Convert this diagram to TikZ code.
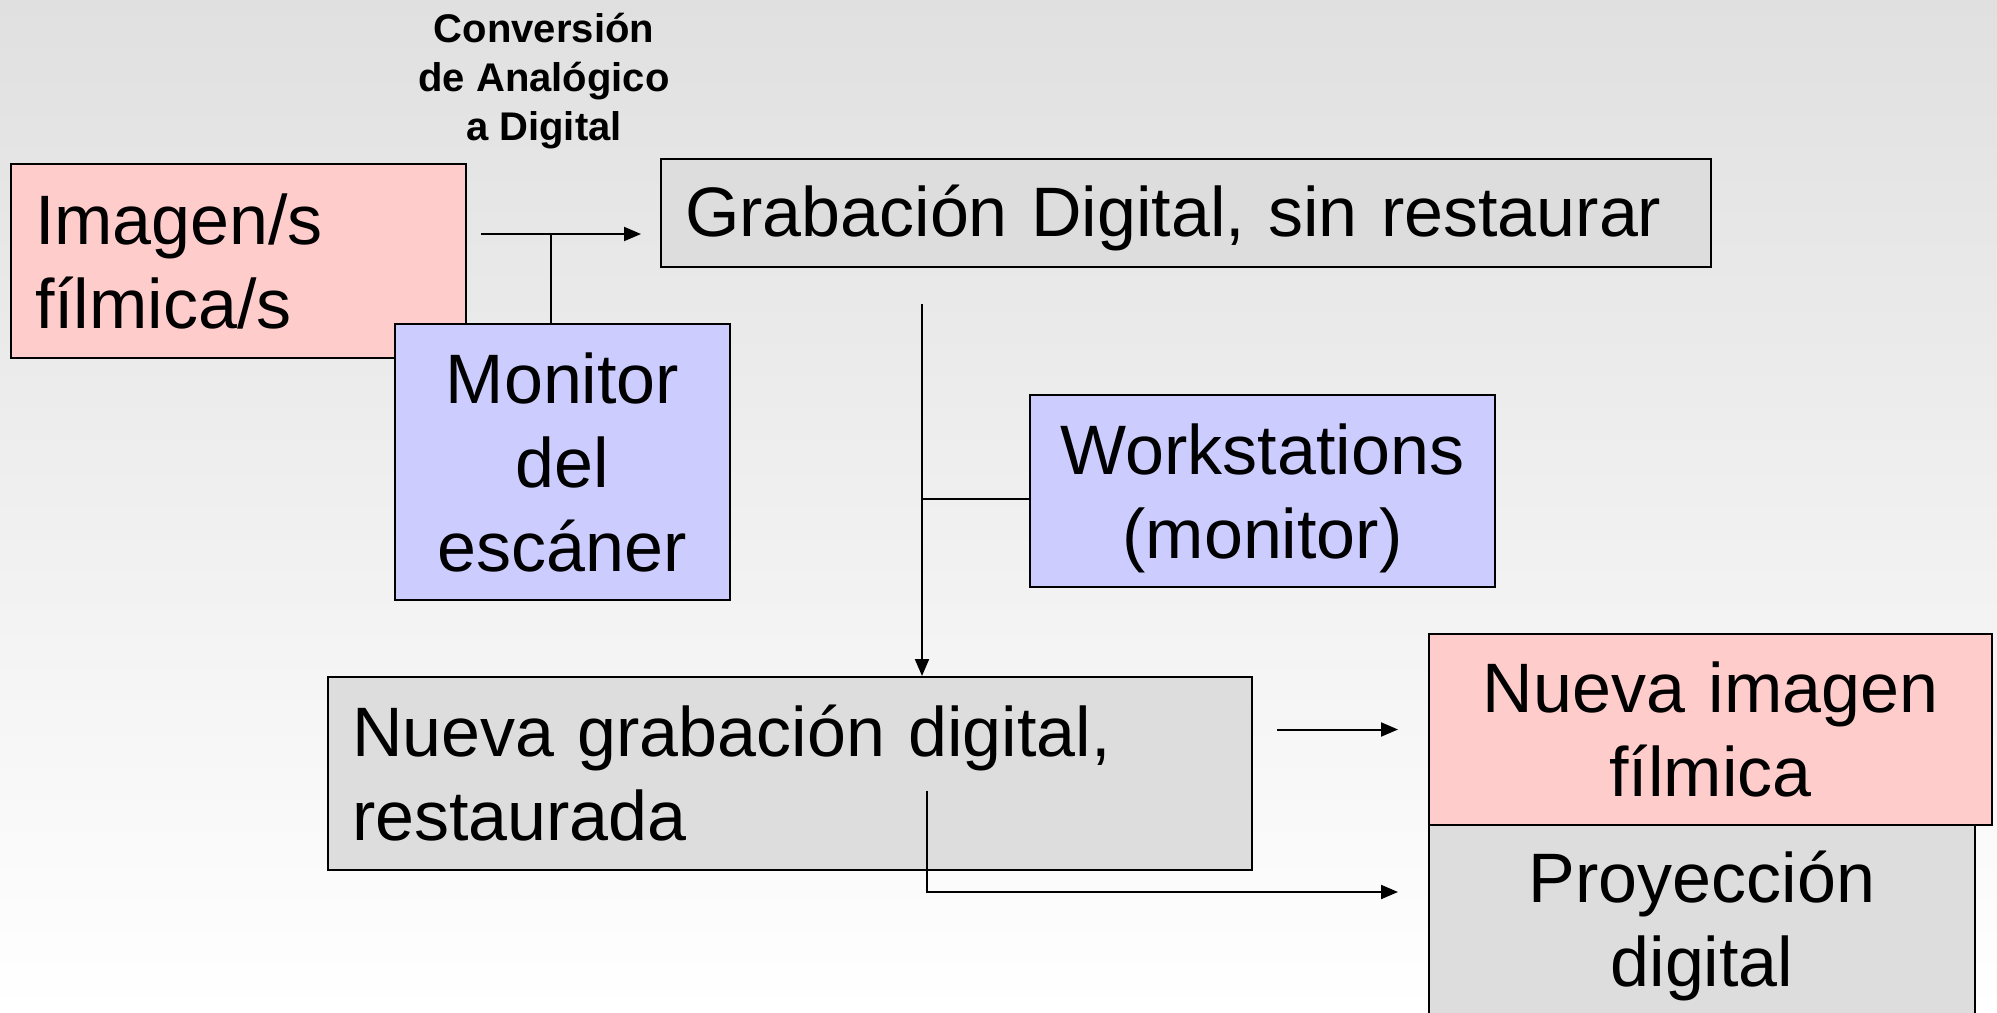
\documentclass[tikz,border=0pt]{standalone}
\usepackage{fontspec}
\setmainfont{Liberation Sans}
\usetikzlibrary{arrows.meta}

\definecolor{rosafill}{RGB}{255,204,204}
\definecolor{lilafill}{RGB}{204,204,255}
\definecolor{grisfill}{RGB}{221,221,221}
\definecolor{fondo}{RGB}{224,224,224}

\tikzset{
	caja/.style={draw=black, line width=2pt, anchor=north west, inner xsep=24pt, inner ysep=0pt,
		font=\fontsize{70}{84}\selectfont},
	rosa/.style={caja, fill=rosafill},
	lila/.style={caja, fill=lilafill, align=center},
	gris/.style={caja, fill=grisfill},
	linea/.style={line width=2pt},
	flecha/.style={linea, -{Triangle[length=17pt,width=14pt]}}
}

\begin{document}
\begin{tikzpicture}[x=1pt, y=-1pt]

	% background
	\clip (0,0) rectangle (1997,1012);
	\shade[top color=fondo, bottom color=white] (0,0) rectangle (1997,1012);

	\node[font=\bfseries\fontsize{40}{49}\selectfont, align=center] (conv) at (544,81)
		{Conversión\\de Analógico\\a Digital};

	% draw first row
	\node[rosa, minimum width=455pt, minimum height=194pt, text width=407pt, align=left] (imagen) at (10,163)
		{Imagen/s\\fílmica/s};
	\node[gris, minimum width=1050pt, minimum height=108pt, text width=1002pt, align=left,
		text height=77pt, text depth=31pt] (grab) at (660,158)
		{Grabación Digital, sin restaurar};

	\coordinate (c_0) at (481,234);
	\coordinate (c_1) at (641,234);
	\coordinate (c_2) at (551,234);
	\draw[flecha] (c_0) -- (c_1);

	% monitors
	\node[lila, minimum width=335pt, minimum height=276pt, text width=287pt] (monitor) at (394,323)
		{Monitor\\del\\escáner};
	\draw[linea] (c_2) -- (c_2 |- monitor.north);

	\node[lila, minimum width=465pt, minimum height=192pt, text width=417pt,
		text height=79pt, text depth=113pt] (work) at (1029,394)
		{Workstations\\(monitor)};

	% draw restored recording
	\node[gris, minimum width=924pt, minimum height=193pt, text width=876pt, align=left] (nueva) at (327,676)
		{Nueva grabación digital,\\restaurada};

	\coordinate (g_0) at (922,304);
	\coordinate (g_1) at (922,499);
	\draw[flecha] (g_0) -- (g_0 |- nueva.north);
	\draw[linea] (g_1) -- (g_1 -| work.west);

	% draw outputs
	\node[gris, minimum width=546pt, minimum height=202pt, text width=498pt, align=center] (proy) at (1428,824)
		{Proyección\\digital};
	\node[rosa, minimum width=563pt, minimum height=191pt, text width=515pt, align=center] (film) at (1428,633)
		{Nueva imagen\\fílmica};

	\draw[flecha] ([xshift=24pt]nueva.east |- film.west) -- ([xshift=-30pt]film.west);

	\coordinate (p_0) at (927,791);
	\coordinate (p_1) at (927,892);
	\draw[flecha] (p_0) -- (p_1) -- ([xshift=-30pt]proy.west |- p_1);

\end{tikzpicture}
\end{document}
